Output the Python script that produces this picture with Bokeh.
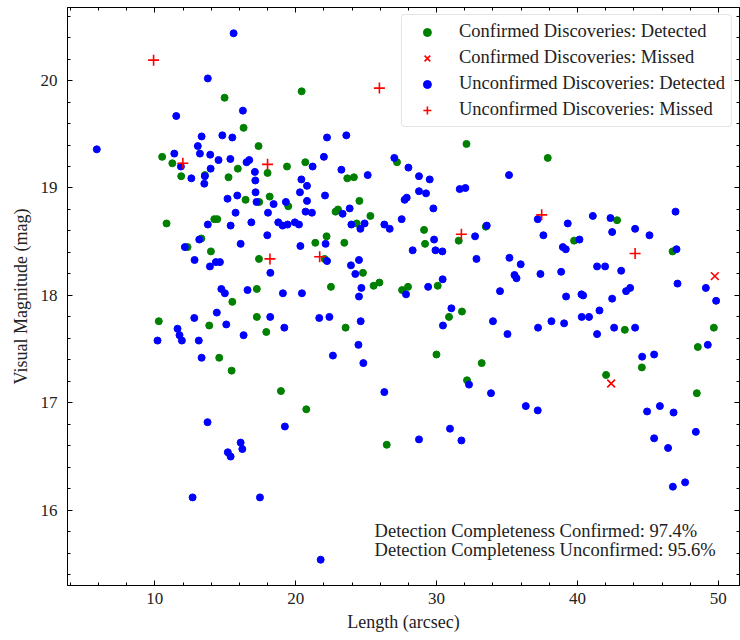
from bokeh.plotting import figure
from bokeh.models import (Range1d, LinearAxis, FixedTicker, Legend, LegendItem, Label)
from bokeh.embed import file_html
from bokeh.resources import INLINE
import numpy as np

# ---- data ----
conf_det_x = [10.52, 14.95, 16.30, 17.36, 20.42, 32.12, 27.19, 37.89, 11.24, 15.89, 18.00, 19.38,
              11.87, 15.23, 18.15, 16.44, 17.41, 19.47, 10.83, 14.22, 14.43, 13.30, 12.32, 13.98,
              17.39, 17.24, 15.50, 20.68, 23.66, 24.13, 22.83, 23.00, 24.52, 25.30, 24.33, 29.11,
              22.19, 21.39, 23.45, 29.18, 31.57, 33.49, 22.05, 24.77, 22.50, 25.53, 25.94, 27.55,
              27.97, 30.08, 42.81, 39.76, 46.75, 10.28, 17.24, 13.86, 17.91, 14.57, 15.45, 18.95,
              23.54, 31.80, 30.88, 29.99, 33.20, 32.16, 20.75, 26.46, 43.36, 49.68, 48.54, 44.57,
              42.03, 48.47, 13.55]
conf_det_y = [19.29, 19.84, 19.56, 19.39, 19.90, 19.41, 19.24, 19.28, 19.23, 19.18, 19.14, 19.20,
              19.11, 19.10, 18.92, 18.89, 18.87, 18.83, 18.67, 18.71, 18.71, 18.53, 18.45, 18.41,
              18.34, 18.06, 17.94, 19.24, 19.09, 19.10, 18.78, 18.80, 18.88, 18.74, 18.67, 18.61,
              18.55, 18.49, 18.49, 18.48, 18.51, 18.64, 18.34, 18.21, 18.08, 18.09, 18.12, 18.05,
              18.08, 18.09, 18.70, 18.51, 18.41, 17.76, 17.80, 17.72, 17.66, 17.42, 17.30, 17.11,
              17.70, 17.85, 17.80, 17.45, 17.37, 17.21, 16.94, 16.61, 17.68, 17.70, 17.52, 17.33,
              17.26, 17.09, 19.12]

conf_miss_x = [42.39, 49.75]
conf_miss_y = [17.18, 18.18]

unconf_det_x = [
    15.59, 13.76, 11.52, 16.25, 13.32, 14.79, 15.50, 13.05, 5.88, 11.38, 13.20, 13.93, 14.52, 15.36, 16.70, 16.51,
    22.22, 23.59, 22.00, 27.00,
    11.85, 13.96, 17.10, 12.59, 13.55, 13.51, 17.13, 17.15, 15.85, 15.16, 17.22, 18.43, 19.30, 15.73, 18.03, 13.76,
    15.38, 16.85, 18.76, 19.07, 19.42, 17.98, 13.15, 16.09, 12.13, 12.82, 14.33, 14.62, 13.91, 18.20, 14.72, 14.97,
    16.58, 19.09,
    21.20, 23.24, 25.11, 28.00, 28.75, 29.51, 20.40, 20.80, 20.30, 22.08, 20.80, 20.70, 21.15, 23.33, 23.83, 28.75,
    29.25, 27.88, 27.73, 29.77, 31.64, 32.04, 35.14, 19.94, 20.23, 23.95, 24.59, 24.89, 26.29, 26.67, 27.52, 22.12,
    20.33, 29.82, 29.92, 30.41, 28.30, 32.73, 33.56, 32.83, 35.17, 22.22, 24.49, 23.92, 24.23, 30.43, 24.66, 27.83,
    29.40, 34.50, 20.44, 24.49,
    37.18, 39.31, 41.09, 42.34, 46.96, 37.58, 42.46, 44.09, 45.11, 40.14, 38.96, 39.17, 47.03, 35.97, 35.53, 35.67,
    37.37, 38.84, 41.39, 41.96, 43.10, 47.10, 49.11, 43.45, 43.74, 39.19, 40.28, 40.40, 42.46, 49.84,
    12.80, 14.40, 18.19, 15.07, 19.19, 11.61, 11.75, 11.92, 10.19, 13.12, 16.30, 13.32, 13.74, 19.23, 16.09,
    21.67, 22.39, 24.61, 24.45, 22.64, 24.80, 31.05, 30.45, 34.00, 35.03, 32.30, 33.86, 26.29, 30.95, 28.75, 31.76,
    41.56, 40.30, 40.82, 38.15, 39.05, 37.20, 41.39, 42.60, 44.09, 49.25, 44.59, 45.44, 36.33, 37.18, 44.94, 45.85,
    46.82, 48.40, 45.44, 46.43, 46.77, 47.64,
    16.21, 15.18, 15.38, 12.68, 17.46,
    21.77]
unconf_det_y = [
    20.44, 20.02, 19.67, 19.72, 19.48, 19.49, 19.47, 19.39, 19.36, 19.32, 19.32, 19.31, 19.26, 19.27, 19.26, 19.24,
    19.47, 19.49, 19.29, 19.28,
    19.20, 19.18, 19.15, 19.09, 19.11, 19.04, 19.07, 18.96, 18.93, 18.90, 18.87, 18.85, 18.87, 18.77, 18.77, 18.66,
    18.65, 18.68, 18.68, 18.65, 18.66, 18.56, 18.52, 18.48, 18.45, 18.33, 18.31, 18.31, 18.27, 18.21, 18.06, 18.02,
    18.05, 18.02,
    19.20, 19.17, 19.12, 19.19, 19.11, 19.08, 19.08, 19.02, 18.96, 18.93, 18.88, 18.78, 18.77, 18.76, 18.81, 18.97,
    18.95, 18.91, 18.89, 18.81, 18.99, 19.00, 19.12, 18.68, 18.66, 18.66, 18.62, 18.67, 18.66, 18.62, 18.71, 18.48,
    18.46, 18.52, 18.42, 18.41, 18.42, 18.55, 18.65, 18.34, 18.35, 18.32, 18.33, 18.28, 18.20, 18.15, 18.07, 18.01,
    18.08, 18.04, 18.02, 17.99,
    18.71, 18.67, 18.74, 18.72, 18.78, 18.56, 18.59, 18.62, 18.56, 18.52, 18.45, 18.43, 18.43, 18.29, 18.19, 18.16,
    18.20, 18.22, 18.27, 18.27, 18.23, 18.11, 18.07, 18.04, 18.07, 17.99, 18.01, 18.00, 17.97, 17.95,
    17.79, 17.84, 17.80, 17.73, 17.70, 17.69, 17.63, 17.58, 17.58, 17.58, 17.63, 17.42, 16.82, 16.78, 16.63,
    17.79, 17.80, 17.76, 17.54, 17.44, 17.37, 17.88, 17.72, 17.76, 17.64, 17.17, 17.09, 17.10, 16.76, 16.66, 16.65,
    17.86, 17.80, 17.80, 17.76, 17.74, 17.70, 17.64, 17.70, 17.70, 17.54, 17.43, 17.45, 16.97, 16.93, 16.92, 16.97,
    16.91, 16.73, 16.67, 16.58, 16.22, 16.26,
    16.57, 16.54, 16.50, 16.12, 16.12,
    15.54]

unconf_miss_x = [9.91, 11.99, 18.00, 18.17, 21.70, 25.94, 31.76, 37.46, 44.09]
unconf_miss_y = [20.19, 19.23, 19.22, 18.34, 18.36, 19.93, 18.57, 18.75, 18.39]

x_major = [10, 20, 30, 40, 50]
y_major = [16, 17, 18, 19, 20]

label_conf = "Detection Completeness Confirmed: 97.4%"
label_unconf = "Detection Completeness Unconfirmed: 95.6%"

FONT = "Liberation Serif"

p = figure(width=740, height=640, output_backend="svg", toolbar_location=None,
           x_range=Range1d(3.8, 51.5), y_range=Range1d(15.3, 20.68),
           min_border_left=67, min_border_right=1, min_border_top=7, min_border_bottom=55)
p.xgrid.visible = False
p.ygrid.visible = False
p.outline_line_color = "black"
p.outline_line_width = 1
p.background_fill_color = "white"
p.border_fill_color = "white"

x_minor = [float(v) for v in np.arange(4, 51.5, 2)]
y_minor = [round(float(v), 1) for v in np.arange(15.4, 20.7, 0.2)]

def style_axis(ax, ticks, minor, labels=True):
    ax.ticker = FixedTicker(ticks=ticks, minor_ticks=minor)
    ax.major_tick_in = 5
    ax.major_tick_out = 0
    ax.minor_tick_in = 3
    ax.minor_tick_out = 0
    ax.axis_line_color = "black"
    ax.major_tick_line_color = "black"
    ax.minor_tick_line_color = "black"
    if labels:
        ax.major_label_text_font = FONT
        ax.major_label_text_font_size = "17px"
        ax.major_label_text_color = "#222222"
        ax.axis_label_text_font = FONT
        ax.axis_label_text_font_size = "18px"
        ax.axis_label_text_font_style = "normal"
        ax.axis_label_text_color = "#222222"
    else:
        ax.major_label_overrides = {t: "" for t in ticks}
        ax.major_label_standoff = 0

style_axis(p.xaxis[0], x_major, x_minor)
style_axis(p.yaxis[0], y_major, y_minor)
p.xaxis[0].axis_label = "Length (arcsec)"
p.yaxis[0].axis_label = "Visual Magnitude (mag)"
p.xaxis[0].major_label_standoff = 7
p.yaxis[0].major_label_standoff = 10
p.xaxis[0].axis_label_standoff = 5
p.yaxis[0].axis_label_standoff = 7

top_ax = LinearAxis()
right_ax = LinearAxis()
style_axis(top_ax, x_major, x_minor, labels=False)
style_axis(right_ax, y_major, y_minor, labels=False)
p.add_layout(top_ax, "above")
p.add_layout(right_ax, "right")

r1 = p.scatter(conf_det_x, conf_det_y, marker="circle", size=7, fill_color="green", line_color="green")
r2 = p.scatter(conf_miss_x, conf_miss_y, marker="x", size=11, line_color="red", line_width=1.6)
r3 = p.scatter(unconf_det_x, unconf_det_y, marker="circle", size=7, fill_color="blue", line_color="blue")
r4 = p.scatter(unconf_miss_x, unconf_miss_y, marker="cross", size=11, line_color="red", line_width=1.6)

legend = Legend(items=[
    LegendItem(label="Confirmed Discoveries: Detected", renderers=[r1]),
    LegendItem(label="Confirmed Discoveries: Missed", renderers=[r2]),
    LegendItem(label="Unconfirmed Discoveries: Detected", renderers=[r3]),
    LegendItem(label="Unconfirmed Discoveries: Missed", renderers=[r4]),
], location="top_right")
legend.label_text_font = FONT
legend.label_text_font_size = "18.5px"
legend.label_text_color = "#222222"
legend.padding = 6
legend.spacing = 5
legend.margin = 7
legend.glyph_width = 38
legend.glyph_height = 20
legend.label_height = 20
legend.label_standoff = 13
legend.border_line_color = "#cccccc"
legend.border_line_width = 1.2
legend.background_fill_alpha = 0.85
if hasattr(legend, "border_radius"):
    legend.border_radius = 4
p.add_layout(legend)

lab1 = Label(x=25.6, y=15.805, text=label_conf, text_font=FONT, text_font_size="18.5px",
             text_color="#222222", text_baseline="alphabetic", text_align="left")
lab2 = Label(x=25.6, y=15.635, text=label_unconf, text_font=FONT, text_font_size="18.5px",
             text_color="#222222", text_baseline="alphabetic", text_align="left")
p.add_layout(lab1)
p.add_layout(lab2)

open("out.html", "w").write(file_html(p, INLINE))
